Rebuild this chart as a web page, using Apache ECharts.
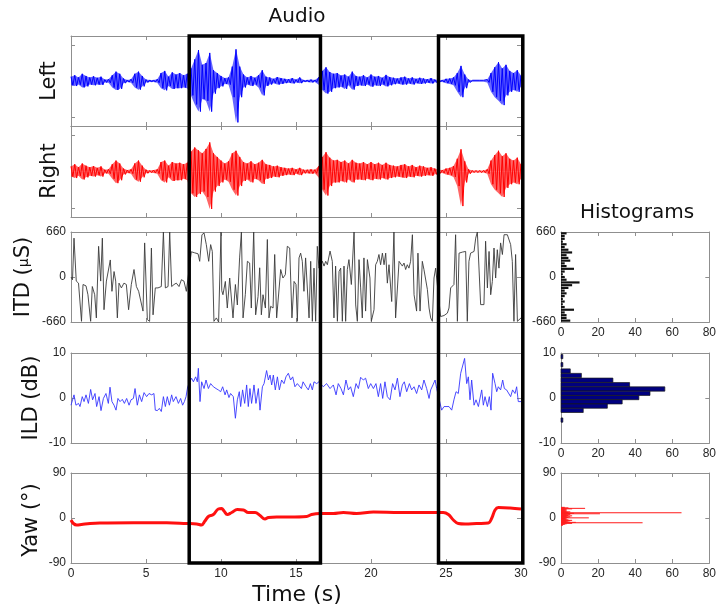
<!DOCTYPE html>
<html>
<head>
<meta charset="utf-8">
<script src="https://cdn.jsdelivr.net/npm/echarts@6/dist/echarts.min.js"></script>
<style>
html, body { margin: 0; padding: 0; background: #fff; }
#chart { width: 719px; height: 609px; }
</style>
</head>
<body>
<div id="chart"></div>
<script>
// audio envelopes, one value every 0.25 s from 0 to 30 s
var audioStep = 0.25;
var leftUpper = [.12,.16,.10,.20,.14,.10,.13,.09,.12,.04, .05,.16,.26,.20,.07,.03,.05,.20,.26,.14,
  .04,.03,.03,.05,.22,.28,.12,.24,.18,.22, .16,.20,.35,.60,.86,.45,.50,.78,.30,.22,
  .14,.08,.10,.40,.88,.40,.18,.10,.14,.09, .16,.30,.12,.10,.06,.11,.08,.06,.05,.08,
  .04,.10,.03,.03,.04,.03,.10,.28,.38,.25, .20,.22,.15,.18,.12,.26,.14,.12,.16,.10,
  .18,.12,.14,.09,.17,.11,.09,.07,.10,.12, .07,.10,.06,.09,.07,.05,.08,.04,.03,.03,
  .06,.07,.10,.22,.42,.18,.04,.02,.02,.02, .02,.04,.22,.38,.52,.35,.45,.28,.22,.30, .15];
var leftLower = [-.12,-.14,-.10,-.18,-.15,-.10,-.12,-.10,-.11,-.04, -.05,-.18,-.25,-.22,-.06,-.03,-.05,-.18,-.24,-.15,
  -.04,-.03,-.03,-.05,-.20,-.26,-.14,-.22,-.20,-.20, -.18,-.20,-.40,-.65,-.85,-.50,-.55,-.85,-.35,-.20,
  -.15,-.08,-.10,-.45,-1.15,-.45,-.18,-.10,-.14,-.10, -.18,-.40,-.14,-.10,-.06,-.10,-.08,-.06,-.05,-.07,
  -.04,-.06,-.03,-.03,-.04,-.03,-.10,-.25,-.35,-.30, -.20,-.18,-.16,-.22,-.12,-.24,-.14,-.12,-.14,-.10,
  -.16,-.12,-.14,-.10,-.15,-.12,-.09,-.07,-.10,-.10, -.07,-.10,-.06,-.08,-.07,-.05,-.07,-.04,-.03,-.03,
  -.06,-.08,-.12,-.30,-.45,-.20,-.04,-.02,-.02,-.02, -.02,-.04,-.30,-.45,-.55,-.67,-.40,-.30,-.25,-.30, -.15];
var rightUpper = [.14,.20,.12,.22,.16,.12,.15,.10,.14,.05, .06,.20,.30,.22,.08,.04,.06,.22,.30,.16,
  .05,.03,.04,.06,.26,.30,.16,.26,.22,.24, .20,.24,.55,.66,.58,.50,.62,.80,.50,.40,
  .30,.22,.28,.50,.57,.40,.26,.22,.28,.20, .24,.32,.20,.18,.14,.16,.12,.10,.08,.10,
  .06,.10,.05,.05,.06,.05,.14,.40,.53,.38, .30,.32,.26,.30,.22,.32,.24,.22,.26,.20,
  .26,.20,.24,.18,.24,.18,.16,.14,.18,.20, .14,.18,.12,.16,.14,.10,.12,.08,.05,.04,
  .08,.10,.15,.35,.61,.28,.06,.03,.03,.03, .03,.06,.30,.45,.57,.42,.50,.35,.30,.38, .20];
var rightLower = [-.14,-.18,-.12,-.22,-.16,-.12,-.14,-.10,-.14,-.05, -.06,-.20,-.32,-.24,-.08,-.04,-.06,-.22,-.28,-.16,
  -.05,-.03,-.04,-.06,-.24,-.30,-.16,-.26,-.24,-.24, -.20,-.24,-.60,-.70,-.62,-.55,-.70,-1.03,-.55,-.40,
  -.30,-.22,-.28,-.50,-.66,-.40,-.26,-.22,-.30,-.20, -.24,-.34,-.20,-.18,-.14,-.16,-.12,-.10,-.08,-.10,
  -.06,-.10,-.05,-.05,-.06,-.05,-.16,-.50,-.66,-.40, -.30,-.30,-.26,-.30,-.22,-.30,-.22,-.22,-.24,-.20,
  -.24,-.20,-.22,-.18,-.22,-.18,-.16,-.14,-.16,-.18, -.14,-.16,-.12,-.14,-.12,-.10,-.12,-.08,-.05,-.04,
  -.08,-.10,-.15,-.40,-.95,-.30,-.06,-.03,-.03,-.03, -.03,-.06,-.35,-.50,-.60,-.70,-.45,-.35,-.30,-.35, -.20];

// ITD (microseconds)
var itdTime = [0,0.1,0.2,0.35,0.5,0.7,0.8,1.0,1.13,1.31, 1.42,1.58,1.69,1.84,1.98,2.09,2.2,2.36,2.47,2.62,
  2.73,2.87,2.98,3.09,3.2,3.36,3.53,3.69,3.84,4.02, 4.2,4.36,4.51,4.64,4.8,4.91,5.09,5.24,5.36,5.47,
  5.62,5.8,6.02,6.16,6.29,6.47,6.58,6.71,6.87,7.02, 7.2,7.36,7.53,7.69,
  8.02,8.24,8.47,8.58,8.73,8.87,9.02,9.18,9.31,9.42, 9.53,9.69,9.84,9.95,10.0,10.05,10.13,10.29,10.42,10.58,
  10.69,10.8,10.96,11.09,11.24,11.36,11.47,11.62,11.76,11.91, 12.02,12.18,12.31,12.47,12.58,12.69,12.8,12.96,13.09,13.2,
  13.31,13.47,13.58,13.71,13.84,13.98,14.13,14.29,14.42,14.58, 14.73,14.87,15.0,15.09,15.2,15.31,15.42,15.53,15.64,15.76,
  15.87,15.98,16.09,16.2,16.31,16.42,16.53,
  16.76,16.87,16.98,17.09,17.27,17.42,17.53,17.64,17.76,17.87, 17.98,18.09,18.2,18.31,18.42,18.53,18.69,18.87,18.98,19.09,
  19.2,19.31,19.42,19.53,19.64,19.76,19.93,20.02,20.2,20.31, 20.42,20.53,20.64,20.76,20.87,20.98,21.09,21.2,21.38,21.53,
  21.64,21.76,21.87,21.98,22.09,22.2,22.31,22.42,22.53,22.64, 22.76,22.87,23.04,23.13,23.27,23.42,23.53,23.64,23.76,23.87,
  23.98,24.09,24.2,24.31,
  24.64,24.87,25.09,25.2,25.31,25.42,25.53,25.64,25.76,25.87, 25.98,26.09,26.2,26.31,26.42,26.53,26.64,26.76,26.87,26.98,
  27.09,27.2,27.31,27.42,27.53,27.64,27.76,27.87,27.98,28.09, 28.2,28.31,28.42,28.53,28.64,28.76,28.87,28.98,29.09,29.2,
  29.31,29.42,29.53,29.64,29.76,30.0];
var itdValue = [0,-40,570,-60,-90,-650,-110,-130,-260,-650, -140,-260,-600,450,-60,570,-480,-60,-40,250,
  -210,80,-60,-600,-90,-160,-90,-110,-480,-110, 110,-140,-210,-185,-500,500,-625,-650,425,-555,
  -160,-160,-140,660,-160,-140,660,-140,-110,-90, -140,-40,-60,-210,
  370,355,340,230,620,645,475,230,475,375, -650,-600,-660,-660,660,-200,-260,-65,-455,-15,
  10,-600,-110,-410,280,660,-600,-260,230,205, -455,660,-555,-285,135,-555,-260,-455,550,-600,
  -430,-455,330,-600,-600,110,-15,35,450,425, -600,-65,-110,-650,280,350,230,-210,280,280,
  -600,230,-650,130,-650,450,130,
  230,160,230,180,380,230,-600,160,-650,80, 130,-650,160,-650,110,255,-110,660,-410,-650,
  255,-160,-600,280,-500,255,-15,-650,-480,180, 230,330,180,350,180,350,-90,180,-360,660,
  -600,-600,230,255,160,205,110,180,130,230, 620,-260,-500,350,-500,230,110,110,-185,-455,
  -600,-650,-15,130,
  -580,-565,-530,-455,-160,-135,-110,620,-650,350, 350,365,350,375,-650,230,350,330,375,570,
  660,645,-405,-430,-405,525,-160,375,-260,-65, 425,-15,400,130,500,330,620,645,620,600,
  475,230,-650,330,-650,-600];

// ILD (dB)
var ildTime = [0,0.2,0.33,0.5,0.6,0.75,0.87,1.0,1.16,1.31, 1.44,1.6,1.71,1.87,2.0,2.16,2.33,2.49,2.6,2.73,
  2.87,3.0,3.13,3.27,3.42,3.56,3.71,3.87,4.0,4.16, 4.27,4.42,4.56,4.71,4.87,5.04,5.2,5.38,5.53,5.62,
  5.76,5.89,6.02,6.16,6.29,6.42,6.56,6.71,6.82,7.0, 7.16,7.31,7.44,7.56,7.67,7.78,
  8.04,8.16,8.31,8.42,8.49,8.6,8.71,8.87,9.0,9.16, 9.31,9.49,9.67,9.82,9.98,10.11,10.27,10.38,10.53,10.64,
  10.82,10.96,11.09,11.22,11.31,11.44,11.58,11.71,11.82,11.93, 12.04,12.2,12.33,12.49,12.6,12.76,12.87,13.04,13.16,13.27,
  13.38,13.49,13.62,13.76,13.89,14.04,14.2,14.33,14.49,14.64, 14.78,14.93,15.09,15.2,15.36,15.47,15.67,15.82,15.96,16.09,
  16.2,16.38,16.53,
  16.82,17.04,17.27,17.49,17.67,17.82,18.0,18.16,18.33,18.49, 18.64,18.82,19.0,19.16,19.31,19.49,19.64,19.82,19.98,20.16,
  20.33,20.49,20.64,20.78,20.93,21.09,21.27,21.44,21.6,21.76, 21.93,22.09,22.22,22.38,22.56,22.71,22.87,23.04,23.2,23.38,
  23.53,23.71,23.87,23.98,24.13,24.27,24.38,
  24.71,24.87,25.0,25.2,25.38,25.53,25.67,25.82,25.98,26.11, 26.24,26.38,26.49,26.6,26.71,26.87,27.0,27.16,27.27,27.38,
  27.49,27.6,27.76,27.89,28.0,28.11,28.27,28.38,28.49,28.64, 28.78,28.89,29.04,29.16,29.31,29.44,29.6,29.71,29.82,30.0];
var ildValue = [-1.6,0.7,-1.6,-1.2,-1.9,0.3,-0.8,0.7,-1.2,1.9, -0.4,1.0,-1.9,0.3,-2.8,-0.1,1.0,-1.2,2.4,-0.8,
  -1.6,-2.7,-0.1,-0.8,-0.3,-1.2,-0.1,-1.6,-0.4,-0.1, 2.1,-1.6,0.7,-0.8,1.2,0.3,1.0,0.7,1.0,-2.7,
  -2.8,-2.3,-3.0,0.3,-1.9,0.3,-1.6,0.7,-0.8,0.3, -1.2,-0.1,-1.6,-0.8,0.3,2.5,
  4.4,3.6,4.7,3.6,6.6,-0.8,3.6,2.1,4.0,2.1, 3.2,2.5,2.1,1.8,1.4,2.5,0.7,1.8,0.1,1.0,
  0.3,-4.5,-0.4,1.4,-1.9,1.8,-1.2,2.9,-1.9,2.1, -1.2,2.9,-1.2,2.1,-2.7,2.5,3.2,6.1,4.0,5.1,
  2.9,5.1,1.8,4.7,1.8,4.0,3.2,4.7,5.5,4.0, 4.7,2.5,3.2,2.9,2.1,3.6,2.5,1.8,3.2,1.8,
  3.6,3.2,3.6,
  2.5,3.2,2.1,2.9,0.7,3.2,2.1,0.7,4.0,1.8, 2.5,0.3,3.2,2.1,4.6,4.0,4.4,2.1,3.2,2.1,
  3.2,0.3,3.2,-0.1,3.6,0.3,-0.4,3.2,1.8,4.4, 0.3,2.9,3.6,1.4,3.2,1.8,2.5,1.0,2.9,1.8,
  4.0,2.1,-0.1,1.8,2.9,4.0,2.1,
  -2.7,-1.9,-1.6,-1.9,-2.7,-0.4,1.4,1.0,5.5,5.1, 8.8,3.2,4.7,-0.4,4.0,-1.6,-0.4,-1.9,-1.6,1.8,
  -1.6,0.3,-1.9,0.3,-2.7,5.5,3.2,1.4,2.5,1.8, 4.0,2.1,1.8,2.1,0.3,1.8,1.0,2.5,-0.8,-0.8];

// head yaw (degrees)
var yawTime = [0,0.16,0.38,0.7,1.27,1.93,4.16,6.38,7.7,8.38, 8.7,8.93,9.16,9.49,9.82,10.04,10.2,10.42,10.71,11.09,
  11.49,11.82,12.27,12.6,12.93,13.16,13.71,14.6,15.71,16.04, 16.6,17.49,18.16,19.04,20.16,21.93,23.71,24.82,25.16,25.49,
  25.82,26.27,27.04,27.82,28.04,28.27,28.49,29.27,30];
var yawValue = [-4,-11,-14,-13,-11,-10,-9.5,-9.5,-11,-12, -14,-6,3,7,18,19,14,7,11,17,
  16,11,11,5,-2,1,2,2,3,7, 9,9,11,9,12,11,11,11,7,-4,
  -11,-12,-11,-10,-1,16,21,20,18];

// histograms
var itdBins = [-640,-600,-560,-520,-480,-440,-400,-360,-320,-280,-240,-200,-160,-120,-80,-40,0,
  40,80,120,160,200,240,280,320,360,400,440,480,520,560,600,640];
var itdCounts = [5,3,3,2,7,2,1,2,1,2,3,2,4,6,10,3,2, 1,2,7,3,2,5,4,3,6,4,2,3,1,2,2,3];
var ildBins = [9.2,7.4,6.0,5.0,3.95,2.95,2.0,1.05,0.1,-0.85,-1.8,-2.75,-4.9];
var ildCounts = [1,1,5,11,28,37,56,48,42,33,25,12,1];
var yawBins = [-14,-13,-12,-11,-10,-9,-8,-7,-6,-5,-4,-3,-2,-1,0,1,2,3,4,5,6,7,8,9,10,11,12,13,14,15,16,17,18,19,20,21,22];
var yawCounts = [1,1,2,3,6,44,8,4,3,5,6,4,3,2,3,15,4,5,3,6,4,3,5,21,7,65,4,5,3,2,3,2,3,6,13,4,2];

// boxed time spans
var boxStart = [7.88, 24.5];
var boxEnd = [16.63, 30.12];

var GRAY = '#8f8f8f';
var TICK_FONT = { color: '#262626', fontSize: 12, fontFamily: 'Liberation Sans' };
var NAME_FONT = 'DejaVu Sans';

var grids = [
    { left: 71, top: 36, width: 450, height: 90 },
    { left: 71, top: 126, width: 450, height: 91 },
    { left: 71, top: 232, width: 450, height: 90 },
    { left: 71, top: 353, width: 450, height: 90 },
    { left: 71, top: 473, width: 450, height: 90 },
    { left: 561, top: 232, width: 149, height: 90 },
    { left: 561, top: 353, width: 149, height: 90 },
    { left: 561, top: 473, width: 149, height: 90 }
];

var timeRange = { min: 0, max: 30, interval: 5 };
var audioRange = { min: -1.25, max: 1.25, ticks: [-1, 1] };
var itdRange = { min: -660, max: 660, interval: 660 };
var ildRange = { min: -10, max: 10, interval: 10 };
var yawRange = { min: -90, max: 90, interval: 90 };
var countRange = { min: 0, max: 80, interval: 20 };

var makeAxis = function (g, pos, range, showLabel) {
    var a = {
        gridIndex: g, type: 'value', position: pos,
        min: range.min, max: range.max,
        axisLine: { show: true, onZero: false, lineStyle: { color: GRAY, width: 1 } },
        axisTick: { show: true, inside: true, length: 4, lineStyle: { color: GRAY } },
        axisLabel: Object.assign({ show: showLabel, margin: 5 }, TICK_FONT),
        splitLine: { show: false }
    };
    if (range.interval) a.interval = range.interval;
    if (range.ticks) {
        a.axisTick.customValues = range.ticks;
        a.axisLabel.customValues = range.ticks;
    }
    return a;
};

// x and y ranges per grid, plus which get labels
var xRanges = [timeRange, timeRange, timeRange, timeRange, timeRange, countRange, countRange, countRange];
var yRanges = [audioRange, audioRange, itdRange, ildRange, yawRange, itdRange, ildRange, yawRange];
var xLabels = [false, false, false, false, true, true, true, true];
var yLabels = [false, false, true, true, true, true, true, true];

var xAxes = [], yAxes = [];
grids.forEach(function (gr, g) {
    xAxes.push(makeAxis(g, 'bottom', xRanges[g], xLabels[g]));
    xAxes.push(makeAxis(g, 'top', xRanges[g], false));
    yAxes.push(makeAxis(g, 'left', yRanges[g], yLabels[g]));
    yAxes.push(makeAxis(g, 'right', yRanges[g], false));
});

// waveform: a zigzag between the upper and lower envelope samples
var waveform = function (upper, lower) {
    var out = [];
    upper.forEach(function (v, i) {
        out.push([i * audioStep, v]);
        if (i < lower.length) out.push([i * audioStep + audioStep / 2, lower[i]]);
    });
    return out;
};
var envelope = function (arr) {
    return arr.map(function (v, i) { return [i * audioStep, v]; });
};
var pairs = function (ts, vs) {
    return ts.map(function (t, i) { return [t, vs[i]]; });
};
var hist = function (bins, counts) {
    return counts.map(function (c, i) { return [c, bins[i]]; });
};

// translucent envelope fill behind the zigzag
var fillSeries = function (g, data, color) {
    return {
        type: 'line', xAxisIndex: 2 * g, yAxisIndex: 2 * g, data: data,
        showSymbol: false, symbol: 'none', z: 1,
        lineStyle: { width: 0 },
        areaStyle: { color: color, opacity: 0.6 }
    };
};
var waveSeries = function (g, data, color) {
    return {
        type: 'line', xAxisIndex: 2 * g, yAxisIndex: 2 * g, data: data,
        showSymbol: false, symbol: 'none', z: 2,
        lineStyle: { color: color, width: 1 }
    };
};

var hBars = function (binWidth, fill, stroke) {
    return function (params, api) {
        var c = api.value(0), v = api.value(1);
        var a = api.coord([0, v + binWidth / 2]);
        var b = api.coord([c, v - binWidth / 2]);
        return {
            type: 'rect',
            shape: { x: a[0], y: a[1], width: b[0] - a[0], height: Math.max(1, b[1] - a[1]) },
            style: { fill: fill, stroke: stroke || null, lineWidth: stroke ? 0.7 : 0 }
        };
    };
};

var option = {
    animation: false,
    backgroundColor: '#fff',
    grid: grids,
    xAxis: xAxes,
    yAxis: yAxes,
    series: [
        waveSeries(0, waveform(leftUpper, leftLower), '#0000ff'),
        waveSeries(1, waveform(rightUpper, rightLower), '#ff0000'),
        {
            type: 'line', xAxisIndex: 4, yAxisIndex: 4, data: pairs(itdTime, itdValue),
            showSymbol: false, symbol: 'none', lineStyle: { color: '#3a3a3a', width: 0.9 }
        },
        {
            type: 'line', xAxisIndex: 6, yAxisIndex: 6, data: pairs(ildTime, ildValue),
            showSymbol: false, symbol: 'none', lineStyle: { color: '#3535ff', width: 0.9 }
        },
        {
            type: 'line', xAxisIndex: 8, yAxisIndex: 8, data: pairs(yawTime, yawValue),
            showSymbol: false, symbol: 'none', smooth: 0.4, lineStyle: { color: '#ff1010', width: 3 }
        },
        {
            type: 'custom', xAxisIndex: 10, yAxisIndex: 10, data: hist(itdBins, itdCounts),
            renderItem: hBars(32, '#111111')
        },
        {
            type: 'custom', xAxisIndex: 12, yAxisIndex: 12, data: hist(ildBins, ildCounts),
            renderItem: hBars(0.95, '#000080', '#1a1a1a')
        },
        {
            type: 'custom', xAxisIndex: 14, yAxisIndex: 14, data: hist(yawBins, yawCounts),
            renderItem: hBars(0.6, '#ff1a1a')
        },
        fillSeries(0, envelope(leftUpper), '#0000ff'),
        fillSeries(0, envelope(leftLower), '#0000ff'),
        fillSeries(1, envelope(rightUpper), '#ff0000'),
        fillSeries(1, envelope(rightLower), '#ff0000')
    ]
};

var chart = echarts.init(document.getElementById('chart'));
chart.setOption(option);

var label = function (text, x, y, size, rotate, rich) {
    return {
        type: 'text', x: x, y: y, rotation: rotate ? Math.PI / 2 : 0, z: 50,
        style: {
            text: text, fontSize: size, fontFamily: NAME_FONT, fill: '#111',
            align: 'center', verticalAlign: 'middle', rich: rich
        }
    };
};

// boxes around the selected spans, from the top audio panel to the bottom yaw panel
var boxTop = chart.convertToPixel({ seriesIndex: 0 }, [0, audioRange.max])[1];
var boxBottom = chart.convertToPixel({ seriesIndex: 4 }, [0, yawRange.min])[1];
var graphics = boxStart.map(function (s, i) {
    var x0 = chart.convertToPixel({ seriesIndex: 0 }, [s, 0])[0];
    var x1 = chart.convertToPixel({ seriesIndex: 0 }, [boxEnd[i], 0])[0];
    return {
        type: 'rect', z: 100,
        shape: { x: x0, y: boxTop, width: x1 - x0, height: boxBottom - boxTop },
        style: { fill: 'none', stroke: '#000', lineWidth: 3.5 }
    };
});
graphics.push(label('Audio', 297, 17, 20));
graphics.push(label('Histograms', 637, 213, 20));
graphics.push(label('Time (s)', 297, 595, 22));
graphics.push(label('Left', 50, 81, 21, true));
graphics.push(label('Right', 50, 171, 21, true));
graphics.push(label('ITD ({m|\u03bc}S)', 24, 277, 21, true,
    { m: { fontSize: 14, fontFamily: NAME_FONT, fill: '#111' } }));
graphics.push(label('ILD (dB)', 32, 398, 21, true));
graphics.push(label('Yaw (\u00b0)', 32, 520, 21, true));

chart.setOption({ graphic: graphics });
window.onresize = chart.resize;
</script>
</body>
</html>
